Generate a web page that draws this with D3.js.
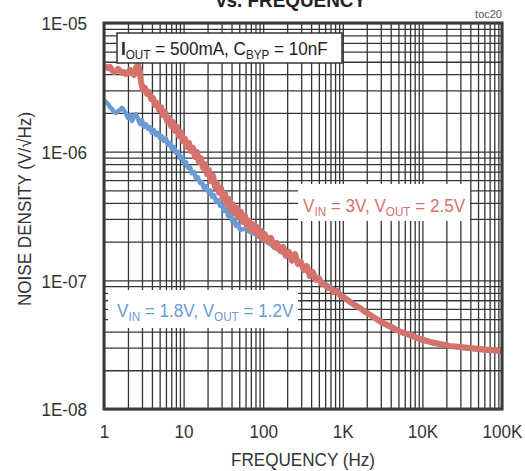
<!DOCTYPE html>
<html>
<head>
<meta charset="utf-8">
<script src="https://cdn.jsdelivr.net/npm/d3@7"></script>
<style>
  html, body { margin: 0; padding: 0; background: #fff; }
  svg { display: block; font-family: "Liberation Sans", Arial, sans-serif; }
</style>
</head>
<body>
<svg id="chart" width="525" height="471"></svg>
<script>
// ---- data ----
const redFreq = [1,1.06,1.12,1.19,1.26,1.34,1.42,1.50,1.59,1.68,1.78,1.89,2.00,2.12,2.25,2.38,2.52,2.67,2.83,2.91,3.09,3.27,3.47,3.67,3.89,4.13,4.37,4.64,4.91,5.21,5.52,5.84,6.19,6.56,6.95,7.36,7.80,8.26,8.75,9.27,9.82,10.4,11.0,11.7,12.4,13.1,13.9,14.7,15.6,16.5,17.5,18.6,19.7,20.8,22.1,23.4,24.8,26.3,27.8,29.5,31.2,33.1,35.0,37.1,39.3,41.7,44.2,46.8,49.6,52.6,55.7,59.1,62.6,66.3,70.3,74.5,78.9,83.6,88.6,93.9,99.5,105,115,125,137,149,163,178,193,211,230,251,273,298,325,354,386,421,459,500,545,594,648,706,770,840,916,1060,1230,1420,1640,1900,2200,2540,2930,3920,5230,6990,9330,12500,16600,22200,29700,39600,52900,70700,100000];
const redDensity = [4.63e-6,4.55e-6,4.47e-6,4.55e-6,4.31e-6,4.16e-6,4.24e-6,4.39e-6,4.24e-6,4.09e-6,4.16e-6,4.02e-6,4.09e-6,4.31e-6,4.09e-6,3.94e-6,4.47e-6,4.72e-6,4.16e-6,3.48e-6,3.02e-6,3.13e-6,2.81e-6,2.91e-6,2.57e-6,2.61e-6,2.31e-6,2.39e-6,2.11e-6,2.22e-6,1.93e-6,2.03e-6,1.73e-6,1.83e-6,1.58e-6,1.70e-6,1.45e-6,1.56e-6,1.32e-6,1.42e-6,1.21e-6,1.26e-6,1.09e-6,1.17e-6,1.01e-6,1.07e-6,9.1e-7,9.95e-7,8.3e-7,8.9e-7,7.5e-7,8.0e-7,6.7e-7,7.2e-7,5.9e-7,6.5e-7,5.3e-7,5.7e-7,4.8e-7,5.2e-7,4.3e-7,4.7e-7,3.9e-7,4.3e-7,3.5e-7,3.9e-7,3.3e-7,3.65e-7,3.05e-7,3.4e-7,2.84e-7,3.17e-7,2.65e-7,2.9e-7,2.47e-7,2.74e-7,2.38e-7,2.6e-7,2.21e-7,2.42e-7,2.1e-7,2.29e-7,1.99e-7,2.14e-7,1.82e-7,1.95e-7,1.69e-7,1.82e-7,1.55e-7,1.66e-7,1.42e-7,1.6e-7,1.34e-7,1.39e-7,1.2e-7,1.29e-7,1.08e-7,1.16e-7,1.01e-7,1.04e-7,9.4e-8,9.2e-8,8.7e-8,8.7e-8,8.1e-8,8.3e-8,7.7e-8,7.3e-8,6.8e-8,6.4e-8,6.1e-8,5.7e-8,5.4e-8,5.1e-8,4.8e-8,4.4e-8,4.0e-8,3.77e-8,3.5e-8,3.32e-8,3.2e-8,3.09e-8,3.04e-8,2.98e-8,2.93e-8,2.88e-8,2.83e-8];

const blueFreq = [1,1.06,1.12,1.19,1.26,1.34,1.42,1.50,1.59,1.68,1.78,1.89,2.00,2.12,2.25,2.38,2.52,2.67,2.83,3.00,3.18,3.37,3.57,3.78,4.00,4.24,4.49,4.76,5.04,5.34,5.66,6.00,6.36,6.73,7.13,7.56,8.01,8.49,8.99,9.52,10.1,10.7,11.3,12.0,12.7,13.5,14.3,15.1,16.1,17.0,18.0,19.1,20.3,21.5,22.8,24.1,25.6,27.1,28.7,30.4,32.2,34.2,36.2,38.3,40.6,43.1,45.6,48.3,51.2,59.1,68.3,78.9,91.2,105,122,141,163,188,217,251,290,335,387,448,517,691,922,1230,1640,2200,2930,3920,5230,6990,9330,16600,29700,52900,100000];
const blueDensity = [2.52e-6,2.43e-6,2.35e-6,2.22e-6,2.15e-6,2.03e-6,2.0e-6,2.07e-6,2.11e-6,2.19e-6,2.11e-6,1.96e-6,1.83e-6,1.93e-6,1.73e-6,1.89e-6,1.96e-6,1.80e-6,1.64e-6,1.76e-6,1.56e-6,1.64e-6,1.50e-6,1.56e-6,1.40e-6,1.47e-6,1.35e-6,1.40e-6,1.28e-6,1.32e-6,1.21e-6,1.26e-6,1.13e-6,1.17e-6,1.05e-6,1.09e-6,9.8e-7,9.95e-7,8.9e-7,9.1e-7,8.2e-7,8.3e-7,7.5e-7,7.6e-7,6.8e-7,6.95e-7,6.2e-7,6.35e-7,5.7e-7,5.8e-7,5.2e-7,5.4e-7,4.9e-7,5.0e-7,4.45e-7,4.6e-7,4.07e-7,4.2e-7,3.8e-7,3.86e-7,3.46e-7,3.58e-7,3.17e-7,3.28e-7,2.9e-7,3.0e-7,2.65e-7,2.74e-7,2.47e-7,2.51e-7,2.38e-7,2.29e-7,2.14e-7,2.03e-7,1.92e-7,1.79e-7,1.69e-7,1.6e-7,1.52e-7,1.44e-7,1.34e-7,1.25e-7,1.16e-7,1.08e-7,1.0e-7,8.9e-8,7.8e-8,6.9e-8,6.1e-8,5.4e-8,4.75e-8,4.3e-8,3.97e-8,3.7e-8,3.44e-8,3.15e-8,2.99e-8,2.88e-8,2.78e-8];

const xTickValues = [1, 10, 100, 1000, 10000, 100000];
const xTickLabels = ["1", "10", "100", "1K", "10K", "100K"];
const yTickValues = [1e-8, 1e-7, 1e-6, 1e-5];
const yTickLabels = ["1E-08", "1E-07", "1E-06", "1E-05"];

const titleText = "vs. FREQUENCY";
const xTitle = "FREQUENCY (Hz)";
const yTitle = "NOISE DENSITY (V/\u221AHz)";
const tocText = "toc20";

// ---- layout ----
const L = 104, R = 502, T = 23, B = 409;
const FS = 19, SX = 0.9, SUBFS = 13;
const gridColor = "#353535";
const redColor = "#d6726c";
const blueColor = "#6a9bd3";

const svg = d3.select("#chart");
const x = d3.scaleLog().domain([1, 1e5]).range([L, R]);
const y = d3.scaleLog().domain([1e-8, 1e-5]).range([B, T]);

// grid values (1..9 per decade)
const gridX = [];
for (let d = 1; d < 1e5; d *= 10) for (let k = 1; k <= 9; k++) gridX.push(d * k);
gridX.push(1e5);
const gridY = [];
for (let d = 1e-8; d < 1e-5 * 0.99; d *= 10) for (let k = 1; k <= 9; k++) gridY.push(d * k);
gridY.push(1e-5);

svg.append("g")
  .attr("transform", `translate(0,${B})`)
  .call(d3.axisBottom(x).tickValues(gridX).tickSize(-(B - T)).tickFormat(""))
  .call(g => g.select(".domain").remove())
  .call(g => g.selectAll("line").attr("stroke", gridColor).attr("stroke-width", 1.3));
svg.append("g")
  .attr("transform", `translate(${L},0)`)
  .call(d3.axisLeft(y).tickValues(gridY).tickSize(-(R - L)).tickFormat(""))
  .call(g => g.select(".domain").remove())
  .call(g => g.selectAll("line").attr("stroke", gridColor).attr("stroke-width", 1.3));

// clip
svg.append("clipPath").attr("id", "clip")
  .append("rect").attr("x", L).attr("y", T).attr("width", R - L).attr("height", B - T);

const line = d3.line().x(d => x(d[0])).y(d => y(d[1])).curve(d3.curveLinear);
const blueData = blueFreq.map((f, i) => [f, blueDensity[i]]);
const redData = redFreq.map((f, i) => [f, redDensity[i]]);

const plot = svg.append("g").attr("clip-path", "url(#clip)");
plot.append("path").datum(blueData).attr("d", line)
  .attr("fill", "none").attr("stroke", blueColor).attr("stroke-width", 4.5)
  .attr("stroke-linejoin", "round").attr("stroke-linecap", "round");
plot.append("path").datum(redData).attr("d", line)
  .attr("fill", "none").attr("stroke", redColor).attr("stroke-width", 6)
  .attr("stroke-linejoin", "round").attr("stroke-linecap", "round");

// frame
svg.append("rect").attr("x", L).attr("y", T).attr("width", R - L).attr("height", B - T)
  .attr("fill", "none").attr("stroke", "#3a3a3a").attr("stroke-width", 3);

// axes labels
svg.append("g")
  .attr("transform", `translate(0,${B})`)
  .call(d3.axisBottom(x).tickValues(xTickValues).tickSize(0).tickFormat((d, i) => xTickLabels[i]))
  .call(g => g.select(".domain").remove())
  .call(g => g.selectAll("text")
    .attr("y", 29).attr("dy", 0)
    .attr("font-size", FS).attr("font-family", "Liberation Sans, Arial, sans-serif")
    .attr("fill", "#333").attr("transform", `scale(${SX},1)`));
svg.append("g")
  .attr("transform", `translate(${L},0)`)
  .call(d3.axisLeft(y).tickValues(yTickValues).tickSize(0).tickFormat((d, i) => yTickLabels[i]))
  .call(g => g.select(".domain").remove())
  .call(g => g.selectAll("text")
    .attr("x", -17 / SX).attr("dy", "0.36em")
    .attr("font-size", FS).attr("font-family", "Liberation Sans, Arial, sans-serif")
    .attr("fill", "#333").attr("transform", `scale(${SX},1)`));

function scaledText(px, py, anchor, rot) {
  return svg.append("g")
    .attr("transform", `translate(${px},${py})` + (rot ? ` rotate(${rot})` : "") + ` scale(${SX},1)`)
    .append("text").attr("text-anchor", anchor).attr("font-size", FS);
}

// axis titles
scaledText(303, 466, "middle").attr("fill", "#333").text(xTitle);
scaledText(31, 209, "middle", -90).attr("fill", "#333").text(yTitle);

// title (its upper part lies above the picture, as in the reference)
scaledText(291, 7, "middle").attr("fill", "#222").attr("font-size", 21)
  .attr("font-weight", "bold").text(titleText);
svg.append("text").attr("x", R).attr("y", 18).attr("text-anchor", "end")
  .attr("font-size", 11).attr("fill", "#555").text(tocText);

// annotation with subscripts
function annot(px, py, color, parts) {
  const t = scaledText(px, py, "start").attr("fill", color);
  parts.forEach(p => {
    const s = t.append("tspan").text(p.t);
    if (p.sub) s.attr("font-size", SUBFS).attr("dy", 4);
    else if (p.after) s.attr("dy", -4);
    if (p.bold) s.attr("font-weight", "bold");
  });
  return t;
}

svg.append("rect").attr("x", 117).attr("y", 33).attr("width", 225).attr("height", 30)
  .attr("fill", "#fff").attr("stroke", "#333").attr("stroke-width", 1.5);
annot(121, 55, "#222", [
  {t: "I", bold: true}, {t: "OUT", sub: true}, {t: " = 500mA, C", after: true},
  {t: "BYP", sub: true}, {t: " = 10nF", after: true}
]);

svg.append("rect").attr("x", 298).attr("y", 184).attr("width", 172).attr("height", 37).attr("fill", "#fff");
annot(303, 212, redColor, [
  {t: "V"}, {t: "IN", sub: true}, {t: " = 3V, V", after: true},
  {t: "OUT", sub: true}, {t: " = 2.5V", after: true}
]);

svg.append("rect").attr("x", 108).attr("y", 290).attr("width", 190).attr("height", 38).attr("fill", "#fff");
annot(117, 317, blueColor, [
  {t: "V"}, {t: "IN", sub: true}, {t: " = 1.8V, V", after: true},
  {t: "OUT", sub: true}, {t: " = 1.2V", after: true}
]);
</script>
</body>
</html>
